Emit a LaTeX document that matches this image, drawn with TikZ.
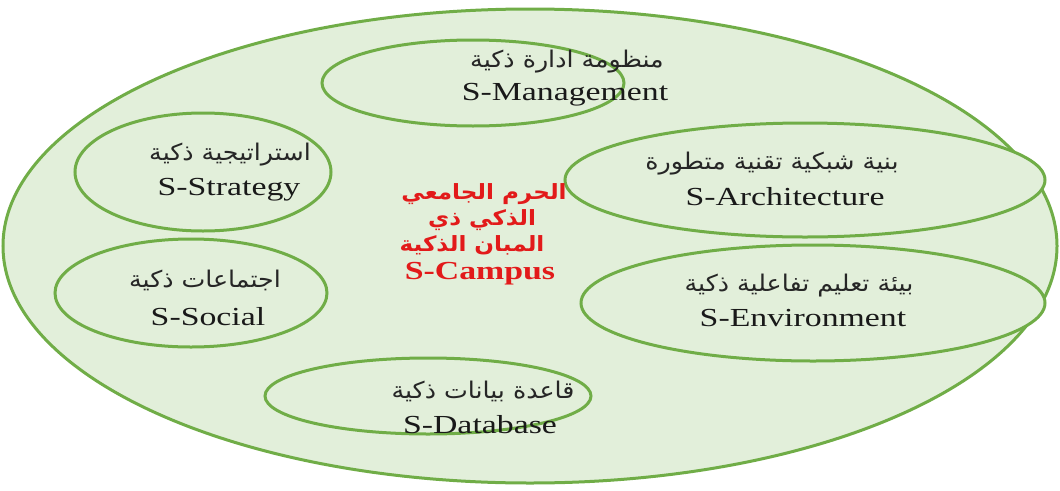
\documentclass[tikz,border=0pt]{standalone}
\usepackage{fontspec}
\setmainfont[FakeStretch=1.3]{Liberation Serif}
\newfontfamily\arabicfont[Script=Arabic,FakeStretch=1.1]{DejaVu Sans}
\TeXXeTstate=1
\usetikzlibrary{shapes.geometric}
\definecolor{bgfill}{HTML}{E2EFDA}
\definecolor{rim}{HTML}{70AD47}
\definecolor{redtxt}{HTML}{E21A1A}
\tikzset{
  ring/.style={ellipse, draw=rim, fill=bgfill, line width=3pt, inner sep=0pt},
  entxt/.style={font=\fontsize{26}{30}\selectfont, text=black!90, inner sep=0pt},
  artxt/.style={font=\arabicfont\fontsize{23}{27}\selectfont, text=black!85, inner sep=0pt},
  redar/.style={font=\arabicfont\bfseries\fontsize{21}{25}\selectfont, text=redtxt, inner sep=0pt},
  reden/.style={font=\bfseries\fontsize{26}{30}\selectfont, text=redtxt, inner sep=0pt}
}
\begin{document}
\begin{tikzpicture}[x=1pt,y=-1pt]
\useasboundingbox (0,0) rectangle (1060,490);
\node[ring, minimum width=1054pt, minimum height=474pt] (outer) at (530,246) {};
\node[ring, minimum width=302pt, minimum height=86pt] (mgmt) at (473,83) {};
\node[ring, minimum width=256pt, minimum height=118pt] (strat) at (203,172) {};
\node[ring, minimum width=480pt, minimum height=114pt] (arch) at (805,180) {};
\node[ring, minimum width=272pt, minimum height=108pt] (soc) at (191,293) {};
\node[ring, minimum width=464pt, minimum height=116pt] (env) at (813,303) {};
\node[ring, minimum width=326pt, minimum height=76pt] (db) at (428,396) {};
% texts
\node[artxt] (mgmtA) at (567,62) {\beginR منظومة ادارة ذكية\endR};
\node[entxt] (mgmtE) at (565,95) {S-Management};
\node[artxt] (stratA) at (230,155) {\beginR استراتيجية ذكية\endR};
\node[entxt] (stratE) at (229,190) {S-Strategy};
\node[artxt] (archA) at (772,164) {\beginR بنية شبكية تقنية متطورة\endR};
\node[entxt] (archE) at (785,197) {S-Architecture};
\node[artxt] (socA) at (205,280) {\beginR اجتماعات ذكية\endR};
\node[entxt] (socE) at (208,317) {S-Social};
\node[artxt] (envA) at (799,286) {\beginR بيئة تعليم تفاعلية ذكية\endR};
\node[entxt] (envE) at (803,318) {S-Environment};
\node[artxt] (dbA) at (483,391) {\beginR قاعدة بيانات ذكية\endR};
\node[entxt] (dbE) at (480,425) {S-Database};
% centre
\node[redar] (c1) at (484,194) {\beginR الحرم الجامعي\endR};
\node[redar] (c2) at (482,220) {\beginR الذكي ذي\endR};
\node[redar] (c3) at (472,245) {\beginR المبان الذكية\endR};
\node[reden] (c4) at (480,274) {S-Campus};
\end{tikzpicture}
\end{document}
